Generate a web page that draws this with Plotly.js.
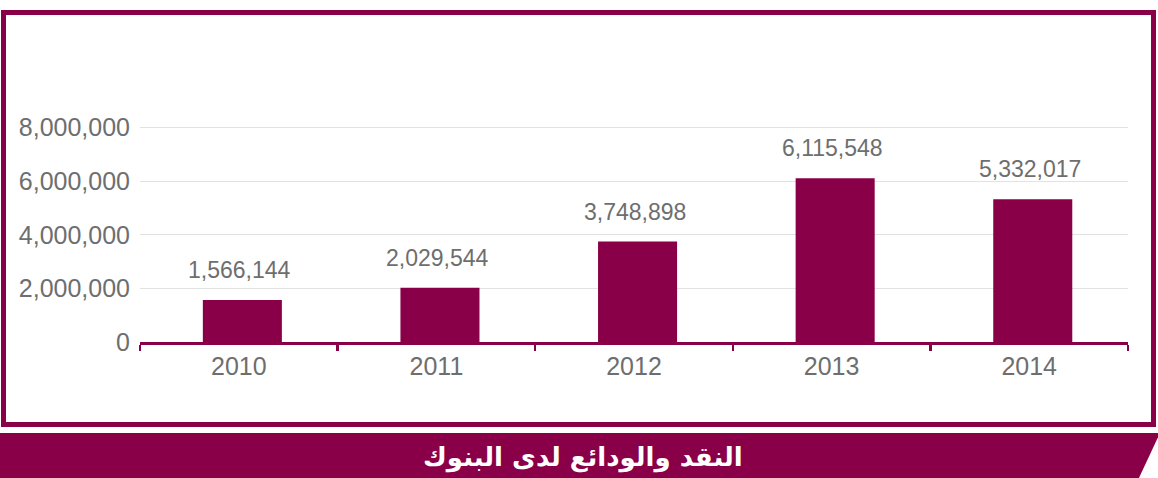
<!DOCTYPE html>
<html>
<head>
<meta charset="utf-8">
<script src="https://cdn.plot.ly/plotly-3.0.1.min.js"></script>
<style>
  html, body { margin: 0; padding: 0; background: #ffffff; }
  #chart { width: 1158px; height: 478px; }
</style>
</head>
<body>
<div id="chart"></div>
<script>
// ---- data ----
const years = ["2010", "2011", "2012", "2013", "2014"];
const values = [1566144, 2029544, 3748898, 6115548, 5332017];
const valueLabels = ["1,566,144", "2,029,544", "3,748,898", "6,115,548", "5,332,017"];
const chartTitle = "النقد والودائع لدى البنوك";

// ---- style ----
const MAROON = "#8A0048";
const GRAY = "#6e6e6e";
const W = 1158, H = 478;
const M = { l: 140, r: 30, t: 80, b: 136 };
const plotW = W - M.l - M.r;
const plotH = H - M.t - M.b;
// pixel -> paper helpers (for decoration only)
const px = x => (x - M.l) / plotW;
const py = y => (H - M.b - y) / plotH;

const trace = {
  type: "bar",
  x: years,
  y: values,
  width: 0.4,
  offset: -0.182,
  marker: { color: MAROON, line: { width: 0 } },
  hoverinfo: "x+y"
};

// category axis: annotation x given as category index
const labelAnnotations = years.map((yr, i) => ({
  x: i, y: values[i], xref: "x", yref: "y",
  text: valueLabels[i],
  showarrow: false,
  xanchor: "center", yanchor: "middle",
  yshift: 30, xshift: 1,
  font: { family: "Liberation Sans, Arial, sans-serif", size: 23, color: GRAY }
}));

const titleAnnotation = {
  xref: "paper", yref: "paper",
  x: px(583), y: py(457),
  xanchor: "center", yanchor: "middle",
  text: "<b>" + chartTitle + "</b>",
  showarrow: false,
  font: { family: "DejaVu Sans, Noto Sans, sans-serif", size: 26, color: "#ffffff" }
};

const shapes = [
  // outer frame
  {
    type: "rect", xref: "paper", yref: "paper", layer: "below",
    x0: px(3.5), x1: px(1153.5), y0: py(424.5), y1: py(12.5),
    line: { color: MAROON, width: 5 }, fillcolor: "rgba(0,0,0,0)"
  },
  // bottom banner with slanted right edge
  {
    type: "path", xref: "paper", yref: "paper", layer: "below",
    path: "M " + px(-5) + " " + py(433) +
          " L " + px(1160) + " " + py(433) +
          " L " + px(1138) + " " + py(480) +
          " L " + px(-5) + " " + py(480) + " Z",
    fillcolor: MAROON, line: { width: 0 }
  }
];

const layout = {
  width: W, height: H,
  margin: M,
  paper_bgcolor: "#ffffff",
  plot_bgcolor: "rgba(0,0,0,0)",
  showlegend: false,
  bargap: 0.6,
  xaxis: {
    type: "category",
    range: [-0.5, 4.5],
    showgrid: false,
    zeroline: false,
    showline: true,
    linecolor: MAROON,
    linewidth: 3,
    ticks: "outside",
    tickson: "boundaries",
    ticklen: 6,
    tickwidth: 2.5,
    tickcolor: MAROON,
    ticklabelstandoff: 0,
    tickfont: { family: "Liberation Sans, Arial, sans-serif", size: 25, color: GRAY },
    fixedrange: true
  },
  yaxis: {
    range: [0, 9.78e6],
    tick0: 0,
    dtick: 2000000,
    tickformat: ",d",
    showgrid: true,
    gridcolor: "#e2e2e2",
    gridwidth: 1,
    zeroline: false,
    showline: false,
    ticks: "",
    ticklabelstandoff: 9,
    tickfont: { family: "Liberation Sans, Arial, sans-serif", size: 25, color: GRAY },
    fixedrange: true
  },
  annotations: labelAnnotations.concat([titleAnnotation]),
  shapes: shapes
};

Plotly.newPlot("chart", [trace], layout, { displayModeBar: false, staticPlot: true });
</script>
</body>
</html>
